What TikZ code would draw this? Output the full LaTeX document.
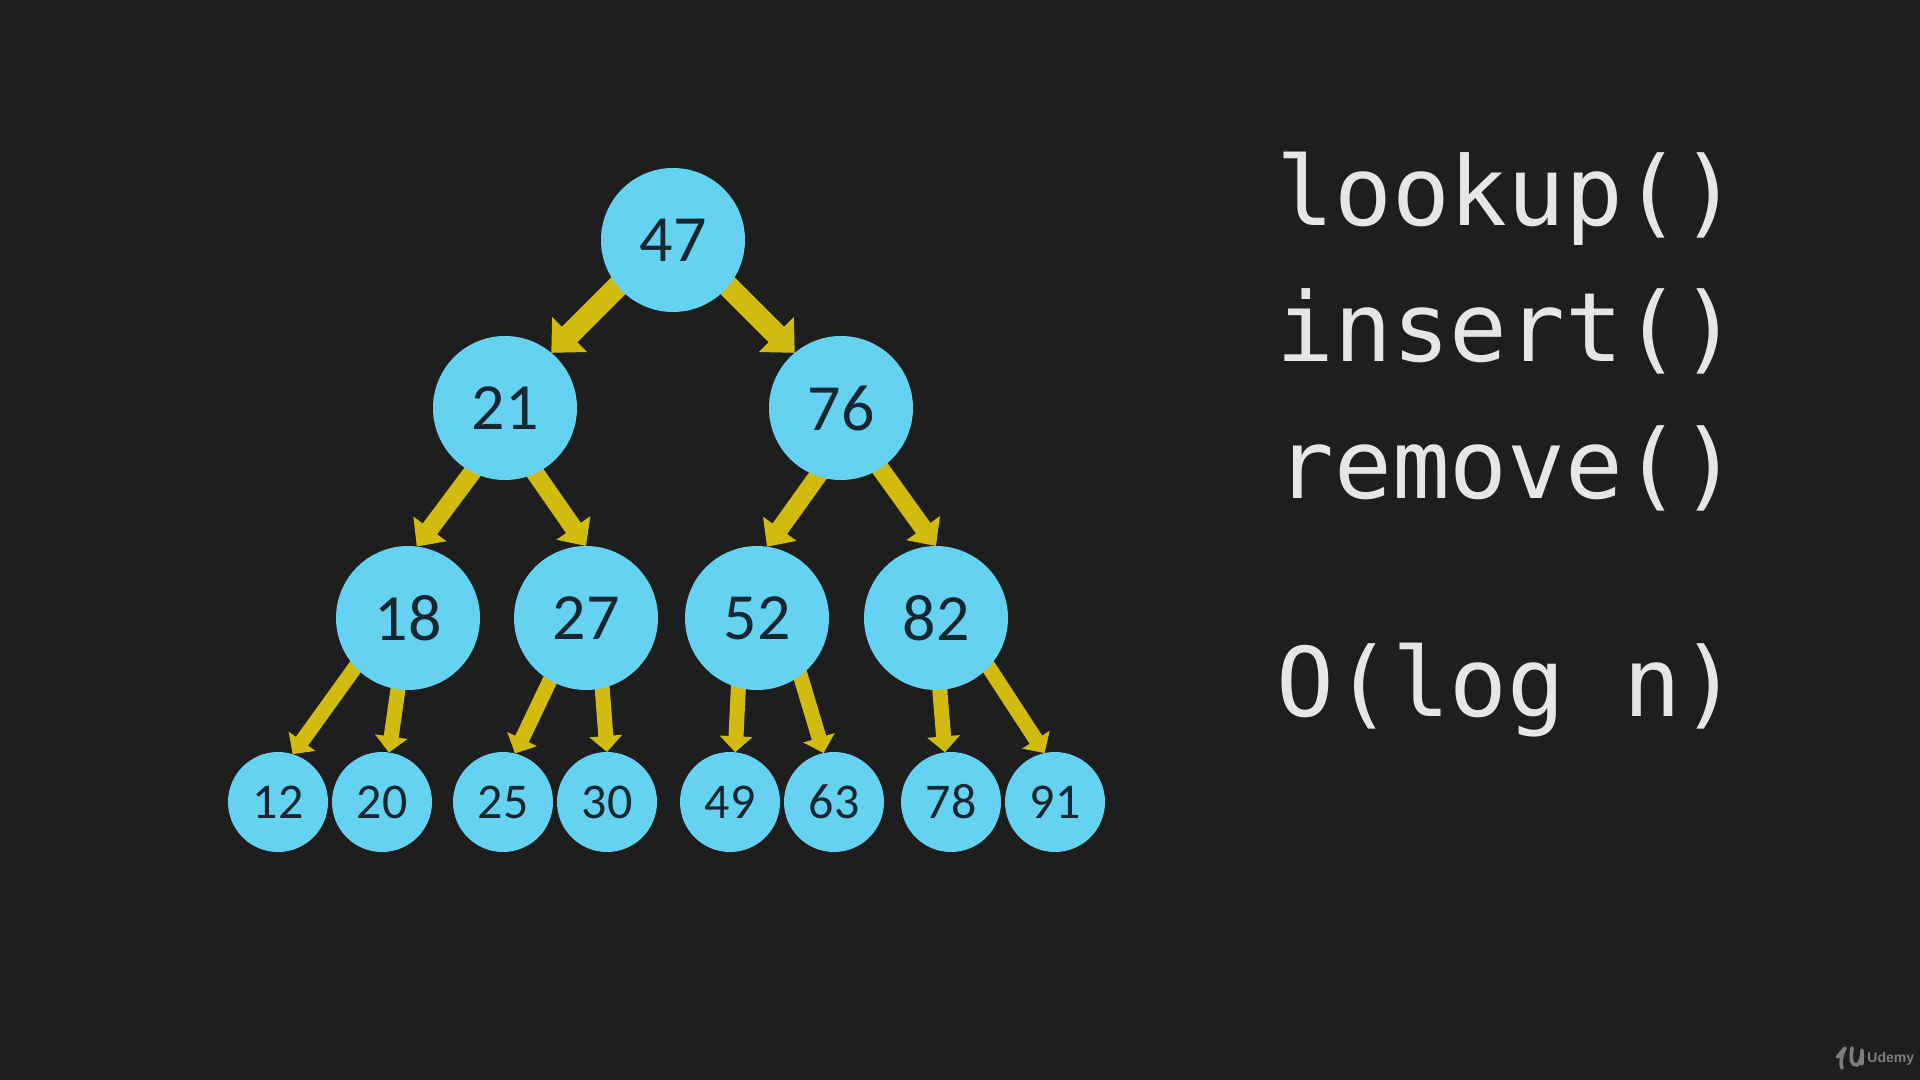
\documentclass[tikz,border=0pt]{standalone}
\usepackage{fontspec}
\setmainfont{Carlito}
\newfontfamily\codefont{DejaVu Sans Mono}
\newfontfamily\logofont{Liberation Sans}
\usetikzlibrary{positioning, arrows.meta, backgrounds}
\definecolor{slate}{RGB}{30,30,30}
\definecolor{sky}{RGB}{100,210,240}
\definecolor{mustard}{RGB}{210,187,15}
\definecolor{ink}{RGB}{24,38,48}
\definecolor{chalk}{RGB}{230,230,230}
\definecolor{faint}{RGB}{125,125,125}
\tikzset{
    big/.style={circle, fill=sky, text=ink, inner sep=0pt, outer sep=0pt, minimum size=72pt, font=\fontsize{33}{33}\selectfont},
    small/.style={circle, fill=sky, text=ink, inner sep=0pt, outer sep=0pt, minimum size=50pt, font=\fontsize{25}{25}\selectfont},
    wide/.style={mustard, line width=11pt, shorten <=-5pt, -{Triangle[length=13pt, width=24pt]}},
    mid/.style={mustard, line width=9pt, shorten <=-5pt, -{Triangle[length=11pt, width=20pt]}},
    thin/.style={mustard, line width=7.5pt, shorten <=-5pt, -{Triangle[length=8pt, width=16pt]}},
    code/.style={anchor=base west, text=chalk, inner sep=0pt, font=\codefont\fontsize{48}{48}\selectfont},
}
\begin{document}
\begin{tikzpicture}[on grid, x=1pt, y=1pt]
    \useasboundingbox (0,0) rectangle (960,-540);
    \node (n47) [big] at (336.5,-120) {47};
    \node (n21) [big, below left=84pt and 84pt of n47] {21};
    \node (n76) [big, below right=84pt and 84pt of n47] {76};
    \node (n18) [big, below left=105pt and 48.5pt of n21] {18};
    \node (n27) [big, below right=105pt and 40.5pt of n21] {27};
    \node (n52) [big, below left=105pt and 42pt of n76] {52};
    \node (n82) [big, below right=105pt and 47.5pt of n76] {82};
    \node (n12) [small, below left=92pt and 65pt of n18] {12};
    \node (n20) [small, below left=92pt and 13pt of n18] {20};
    \node (n25) [small, below left=92pt and 41.5pt of n27] {25};
    \node (n30) [small, below right=92pt and 10.5pt of n27] {30};
    \node (n49) [small, below left=92pt and 13.5pt of n52] {49};
    \node (n63) [small, below right=92pt and 38.5pt of n52] {63};
    \node (n78) [small, below right=92pt and 7.5pt of n82] {78};
    \node (n91) [small, below right=92pt and 59.5pt of n82] {91};
    \node (lookup) [code] at (638,-113) {lookup()};
    \node (insert) [code] at (638,-181) {insert()};
    \node (remove) [code] at (638,-249) {remove()};
    \node (bigO) [code] at (638,-358) {O(log n)};
    \node (brand) [anchor=base west, text=faint, inner sep=0pt, font=\logofont\bfseries\fontsize{7}{7}\selectfont] at (933.5,-531) {Udemy};
    \begin{scope}[on background layer]
        \fill [slate] (0,0) rectangle (960,-540);
        \draw [wide] (n47.220) -- (n21.50);
        \draw [wide] (n47.-40) -- (n76.130);
        \draw [mid] (n21.-117) -- (n18.83);
        \draw [mid] (n21.-65) -- (n27.90);
        \draw [mid] (n76.-109) -- (n52.82);
        \draw [mid] (n76.-57) -- (n82.90);
        \draw [thin] (n18.-137) -- (n12.73);
        \draw [thin] (n18.-98) -- (n20.82);
        \draw [thin] (n27.-120) -- (n25.76);
        \draw [thin] (n27.-77) -- (n30.90);
        \draw [thin] (n52.-105) -- (n49.84);
        \draw [thin] (n52.-53) -- (n63.102);
        \draw [thin] (n82.-87) -- (n78.97);
        \draw [thin] (n82.-43) -- (n91.102);
    \end{scope}
    % logo mark
    \draw [faint, line width=1.8pt, line cap=round, line join=round] (918.7,-528.5) -- (922.5,-524) .. controls (920.5,-528) and (920,-532) .. (921,-534) (926,-524) .. controls (925,-530) and (926,-533) .. (928.5,-532.5) .. controls (930,-532) and (931,-529) .. (931,-525) -- (931,-532);
\end{tikzpicture}
\end{document}
